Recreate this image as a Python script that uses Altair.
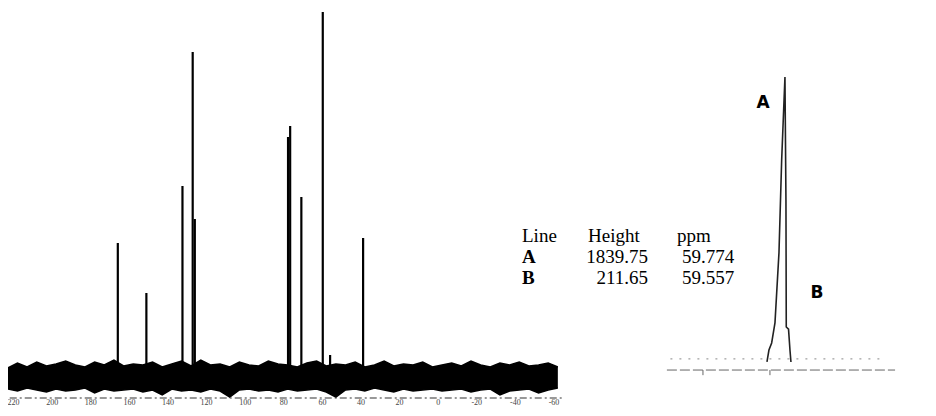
import altair as alt
import pandas as pd

# ---- main 13C spectrum: peak positions (ppm) and heights (arbitrary units) ----
peak_ppm = [166.0, 151.2, 132.5, 127.2, 126.1, 77.8, 76.7, 70.9, 59.8, 56.0, 38.9]
peak_height = [134, 84, 191, 325, 158, 240, 251, 180, 365, 22, 139]

# baseline noise envelope
noise_ppm = [223, 218, 213, 208, 203, 198, 193, 188, 183, 178, 173, 168, 163, 158, 153,
             148, 143, 138, 133, 128, 123, 118, 113, 108, 103, 98, 93, 88, 83, 78, 73,
             68, 63, 58, 53, 48, 43, 38, 33, 28, 23, 18, 13, 8, 3, -2, -7, -12, -17,
             -22, -27, -32, -37, -42, -47, -52, -57, -62]
noise_upper = [9, 14, 10, 15, 11, 13, 16, 12, 10, 15, 12, 17, 11, 13, 12, 15, 10, 13, 16,
               11, 17, 12, 13, 10, 15, 12, 11, 16, 13, 12, 10, 14, 16, 11, 13, 12, 15, 10,
               12, 16, 11, 13, 12, 15, 10, 12, 14, 11, 16, 12, 10, 14, 12, 15, 11, 12, 14, 10]
noise_lower = [-12, -14, -11, -13, -15, -12, -14, -13, -11, -16, -12, -14, -13, -12, -15,
               -13, -18, -12, -14, -13, -15, -12, -14, -20, -13, -12, -14, -13, -15, -12,
               -14, -13, -12, -15, -20, -13, -12, -14, -11, -13, -15, -12, -14, -13, -12,
               -14, -13, -12, -15, -13, -12, -18, -14, -13, -12, -16, -13, -11]

tick_ppm = [220, 200, 180, 160, 140, 120, 100, 80, 60, 40, 20, 0, -20, -40, -60]
tick_labels = [str(t) for t in tick_ppm]

# ---- inset: expanded region around 59.7 ppm ----
inset_ppm = [60.752, 60.644, 60.497, 60.317, 60.100, 59.953, 59.774, 59.720, 59.703,
             59.580, 59.502, 59.448]
inset_height = [0, 77, 123, 252, 704, 1304, 1839.75, 1046, 226, 211.65, 77, 0]

table_lines = ["A", "B"]
table_heights = ["1839.75", "211.65"]
table_ppm = ["59.774", "59.557"]

MAIN_X = alt.Scale(domain=[-253.8, 222.9], reverse=True)
MAIN_Y = alt.Scale(domain=[-31, 369])
INS_X = alt.Scale(domain=[52.0, 102.0], reverse=True)
INS_Y = alt.Scale(domain=[-297, 2285])

peaks = pd.DataFrame({"ppm": peak_ppm, "h": peak_height, "z": 0})
noise = pd.DataFrame({"ppm": noise_ppm, "up": noise_upper, "lo": noise_lower})
ticks = pd.DataFrame({"ppm": tick_ppm, "lab": tick_labels, "y": -30})
inset = pd.DataFrame({"ppm": inset_ppm, "h": inset_height, "order": list(range(len(inset_ppm)))})

noise_band = alt.Chart(noise).mark_area(color="black", opacity=1).encode(
    x=alt.X("ppm:Q", scale=MAIN_X, axis=None),
    y=alt.Y("up:Q", scale=MAIN_Y, axis=None),
    y2="lo:Q",
)
noise_top = alt.Chart(noise).mark_line(color="black", strokeWidth=1.5).encode(
    x=alt.X("ppm:Q", scale=MAIN_X, axis=None),
    y=alt.Y("up:Q", scale=MAIN_Y, axis=None),
)
noise_bot = alt.Chart(noise).mark_line(color="black", strokeWidth=1.5).encode(
    x=alt.X("ppm:Q", scale=MAIN_X, axis=None),
    y=alt.Y("lo:Q", scale=MAIN_Y, axis=None),
)
peak_rules = alt.Chart(peaks).mark_rule(color="black", strokeWidth=2.2).encode(
    x=alt.X("ppm:Q", scale=MAIN_X, axis=None),
    y=alt.Y("z:Q", scale=MAIN_Y, axis=None),
    y2="h:Q",
)
axis_df = pd.DataFrame({"x1": [222.0], "x2": [-64.0], "y": [-21]})
axis_line = alt.Chart(axis_df).mark_rule(color="#333", strokeWidth=1.2, strokeDash=[7, 3, 2, 3]).encode(
    x=alt.X("x1:Q", scale=MAIN_X, axis=None),
    x2="x2:Q",
    y=alt.Y("y:Q", scale=MAIN_Y, axis=None),
)
tick_text = alt.Chart(ticks).mark_text(fontSize=8, color="#444", baseline="bottom", font="Liberation Serif").encode(
    x=alt.X("ppm:Q", scale=MAIN_X, axis=None),
    y=alt.Y("y:Q", scale=MAIN_Y, axis=None),
    text="lab:N",
)

inset_line = alt.Chart(inset).mark_line(color="#222", strokeWidth=1.6).encode(
    x=alt.X("ppm:Q", scale=INS_X, axis=None),
    y=alt.Y("h:Q", scale=INS_Y, axis=None),
    order="order:Q",
)
ins_base = pd.DataFrame({"x1": [66.19], "x2": [53.79], "y": [-52]})
inset_base = alt.Chart(ins_base).mark_rule(color="#666", strokeWidth=1, strokeDash=[10, 3]).encode(
    x=alt.X("x1:Q", scale=INS_X, axis=None),
    x2="x2:Q",
    y=alt.Y("y:Q", scale=INS_Y, axis=None),
)
ins_noise = pd.DataFrame({"x1": [66.0], "x2": [54.5], "y": [20]})
inset_noise = alt.Chart(ins_noise).mark_rule(color="#888", strokeWidth=1, strokeDash=[2, 7]).encode(
    x=alt.X("x1:Q", scale=INS_X, axis=None),
    x2="x2:Q",
    y=alt.Y("y:Q", scale=INS_Y, axis=None),
)
ins_ticks = pd.DataFrame({"ppm": [64.23, 60.59], "a": [-52, -52], "b": [-85, -85]})
inset_ticks = alt.Chart(ins_ticks).mark_rule(color="#666", strokeWidth=1).encode(
    x=alt.X("ppm:Q", scale=INS_X, axis=None),
    y=alt.Y("a:Q", scale=INS_Y, axis=None),
    y2="b:Q",
)

lab_df = pd.DataFrame({"t": ["A", "B"], "px": [755, 809], "py": [95, 285]})
peak_labels = alt.Chart(lab_df).mark_text(fontSize=17, fontWeight="bold", font="DejaVu Sans", color="black").encode(
    x=alt.X("px:Q", scale=None, axis=None),
    y=alt.Y("py:Q", scale=None, axis=None),
    text="t:N",
)

SERIF = "Liberation Serif"
hdr = pd.DataFrame({"t": ["Line", "Height", "ppm"], "px": [514, 580, 669], "py": [234, 234, 234]})
header = alt.Chart(hdr).mark_text(fontSize=19, font=SERIF, align="left", baseline="alphabetic", color="black").encode(
    x=alt.X("px:Q", scale=None, axis=None), y=alt.Y("py:Q", scale=None, axis=None), text="t:N")
col1 = alt.Chart(pd.DataFrame({"t": table_lines, "px": [514, 514], "py": [255, 276]})).mark_text(
    fontSize=19, font=SERIF, fontWeight="bold", align="left", baseline="alphabetic", color="black").encode(
    x=alt.X("px:Q", scale=None, axis=None), y=alt.Y("py:Q", scale=None, axis=None), text="t:N")
col2 = alt.Chart(pd.DataFrame({"t": table_heights, "px": [640, 640], "py": [255, 276]})).mark_text(
    fontSize=19, font=SERIF, align="right", baseline="alphabetic", color="black").encode(
    x=alt.X("px:Q", scale=None, axis=None), y=alt.Y("py:Q", scale=None, axis=None), text="t:N")
col3 = alt.Chart(pd.DataFrame({"t": table_ppm, "px": [674, 674], "py": [255, 276]})).mark_text(
    fontSize=19, font=SERIF, align="left", baseline="alphabetic", color="black").encode(
    x=alt.X("px:Q", scale=None, axis=None), y=alt.Y("py:Q", scale=None, axis=None), text="t:N")

chart = alt.layer(
    noise_band, noise_top, noise_bot, peak_rules, axis_line, tick_text,
    inset_noise, inset_base, inset_ticks, inset_line, peak_labels,
    header, col1, col2, col3,
).resolve_scale(x="independent", y="independent").properties(
    width=920, height=400, padding=0, autosize=alt.AutoSizeParams(type="none"),
    background="white",
).configure_view(stroke=None)

chart.save("out.html", embed_options={"renderer": "svg", "actions": False})
